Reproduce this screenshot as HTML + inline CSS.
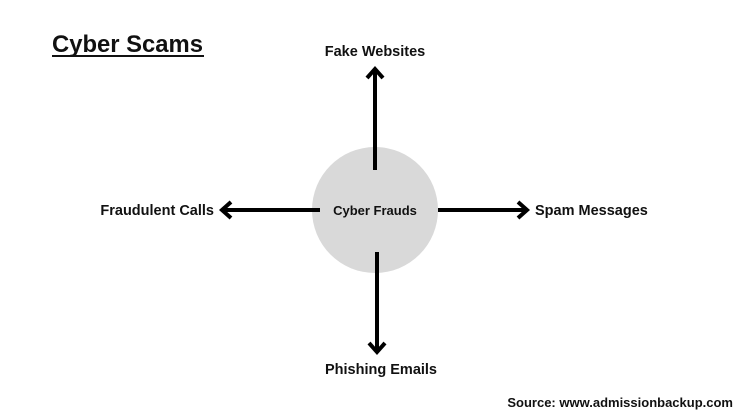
<!DOCTYPE html>
<html><head><style>
html,body{margin:0;padding:0;background:#fff;}
svg{display:block;font-family:"Liberation Sans",sans-serif;font-weight:bold;}
</style></head><body>
<svg width="750" height="420" viewBox="0 0 750 420" xmlns="http://www.w3.org/2000/svg">
<rect width="750" height="420" fill="#fff"/>
<text x="52" y="52" font-size="24" fill="#111" textLength="151" lengthAdjust="spacingAndGlyphs">Cyber Scams</text>
<line x1="52" y1="56" x2="204" y2="56" stroke="#111" stroke-width="2"/>
<circle cx="375" cy="210" r="63" fill="#d9d9d9"/>
<g stroke="#000" stroke-width="4" fill="none" stroke-linecap="butt">
<line x1="375" y1="170" x2="375" y2="70"/>
<polyline points="367,78 375,69 383,78" stroke-linejoin="miter"/>
<line x1="377" y1="252" x2="377" y2="351"/>
<polyline points="369,343 377,352 385,343"/>
<line x1="320" y1="210" x2="223" y2="210"/>
<polyline points="231,202 222,210 231,218"/>
<line x1="438" y1="210" x2="526" y2="210"/>
<polyline points="518,202 527,210 518,218"/>
</g>
<text x="375" y="215" font-size="13" text-anchor="middle" fill="#111">Cyber Frauds</text>
<text x="375" y="56" font-size="14.5" text-anchor="middle" fill="#111">Fake Websites</text>
<text x="214" y="215" font-size="14.5" text-anchor="end" fill="#111">Fraudulent Calls</text>
<text x="535" y="215" font-size="14.5" fill="#111">Spam Messages</text>
<text x="381" y="374" font-size="14.5" text-anchor="middle" fill="#111">Phishing Emails</text>
<text x="733" y="407" font-size="13" text-anchor="end" fill="#111">Source: www.admissionbackup.com</text>
</svg>
</body></html>
